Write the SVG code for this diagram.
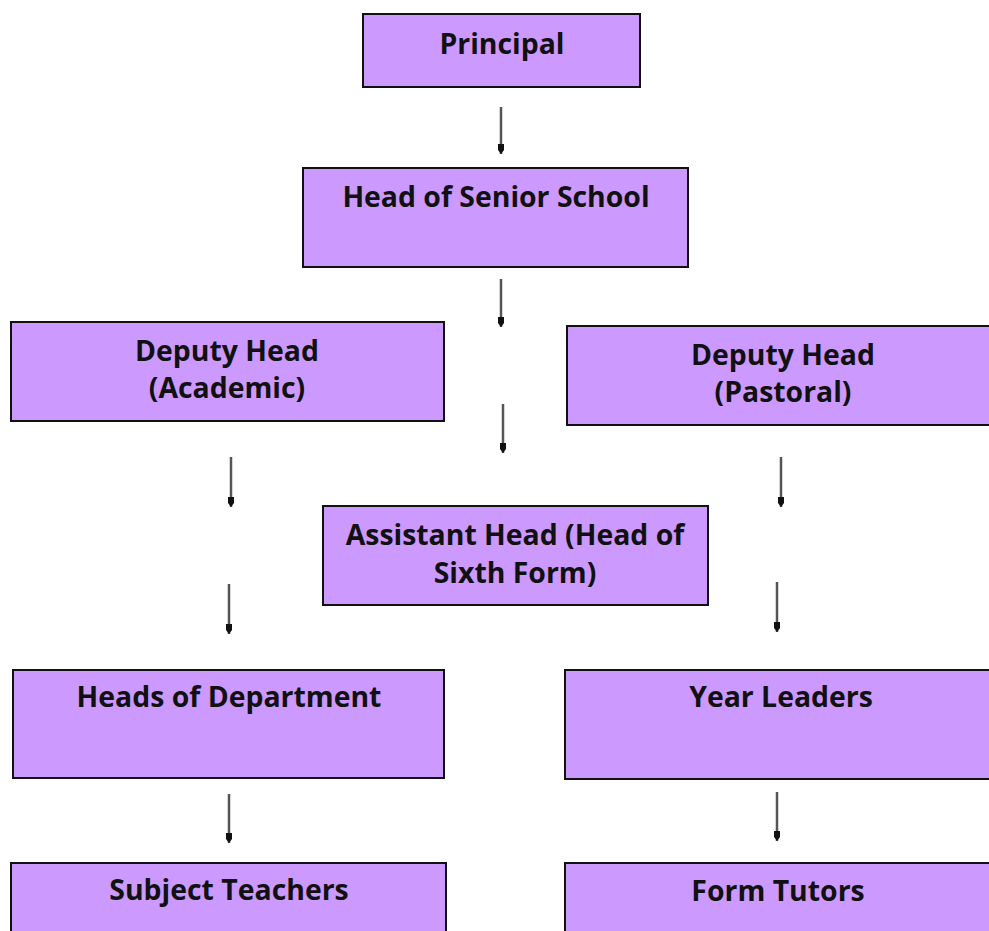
<svg xmlns="http://www.w3.org/2000/svg" width="989" height="931" viewBox="0 0 989 931">
<defs>
<style>
.box{fill:#cc99ff;stroke:#111;stroke-width:2}
.t{font-family:"Open Sans","Noto Sans","Liberation Sans",sans-serif;font-weight:700;font-size:28.4px;fill:#111;text-anchor:middle}
.c{stroke:#555;stroke-width:2.5;fill:none;marker-end:url(#ah)}
</style>
<marker id="ah" viewBox="0 0 10 8" refX="10" refY="4" markerWidth="10" markerHeight="8" markerUnits="userSpaceOnUse" orient="auto">
<path d="M0,1 L6,1 L10,4 L6,7 L0,7 Z" fill="#111"/>
</marker>
</defs>
<rect width="989" height="931" fill="#fff"/>
<g id="connectors">
<line class="c" x1="501" y1="107" x2="501" y2="154"/>
<line class="c" x1="501" y1="279" x2="501" y2="327"/>
<line class="c" x1="503" y1="404" x2="503" y2="453"/>
<line class="c" x1="231" y1="457" x2="231" y2="507"/>
<line class="c" x1="229" y1="584" x2="229" y2="634"/>
<line class="c" x1="781" y1="457" x2="781" y2="507"/>
<line class="c" x1="777" y1="582" x2="777" y2="632"/>
<line class="c" x1="229" y1="794" x2="229" y2="843"/>
<line class="c" x1="777" y1="792" x2="777" y2="841"/>
</g>
<g id="principal">
<rect class="box" x="363" y="14" width="277" height="73"/>
<text class="t" x="502" y="54">Principal</text>
</g>
<g id="head-senior-school">
<rect class="box" x="303" y="168" width="385" height="99"/>
<text class="t" x="496" y="207">Head of Senior School</text>
</g>
<g id="deputy-academic">
<rect class="box" x="11" y="322" width="433" height="99"/>
<text class="t" x="227" y="361">Deputy Head</text>
<text class="t" x="227" y="398">(Academic)</text>
</g>
<g id="deputy-pastoral">
<rect class="box" x="567" y="326" width="440" height="99"/>
<text class="t" x="783" y="365">Deputy Head</text>
<text class="t" x="783" y="402">(Pastoral)</text>
</g>
<g id="assistant-head">
<rect class="box" x="323" y="506" width="385" height="99"/>
<text class="t" x="515" y="545">Assistant Head (Head of</text>
<text class="t" x="515" y="583">Sixth Form)</text>
</g>
<g id="heads-of-department">
<rect class="box" x="13" y="670" width="431" height="108"/>
<text class="t" x="229" y="707">Heads of Department</text>
</g>
<g id="year-leaders">
<rect class="box" x="565" y="670" width="440" height="109"/>
<text class="t" x="781" y="707">Year Leaders</text>
</g>
<g id="subject-teachers">
<rect class="box" x="11" y="863" width="435" height="90"/>
<text class="t" x="229" y="900">Subject Teachers</text>
</g>
<g id="form-tutors">
<rect class="box" x="565" y="863" width="440" height="90"/>
<text class="t" x="778" y="901">Form Tutors</text>
</g>
</svg>
